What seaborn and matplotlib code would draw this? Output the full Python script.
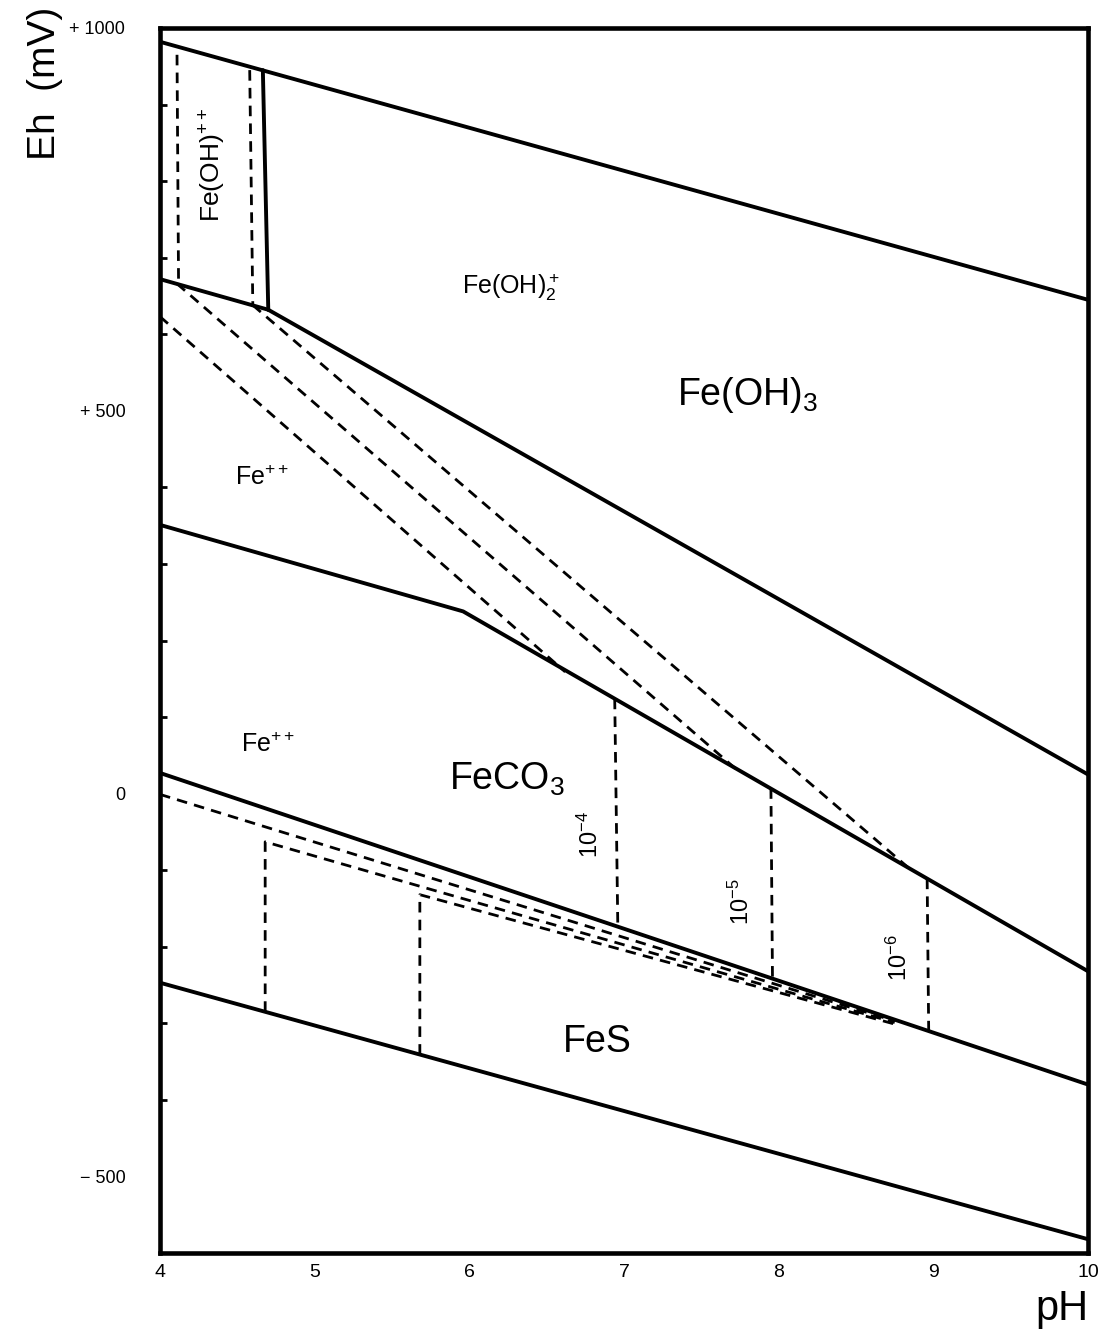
import matplotlib
matplotlib.use("Agg")
import matplotlib.pyplot as plt
from matplotlib.ticker import MultipleLocator
import pandas as pd
import seaborn as sns

# solid stability-field boundaries: (pH, Eh mV)
upper_ph = [4.0, 10.0]
upper_eh = [982, 645]
feoh_vert_ph = [4.665, 4.70]
feoh_vert_eh = [945, 632]
fe_feoh_ph = [4.0, 4.70]
fe_feoh_eh = [672, 632]
fe_fe3_ph = [4.70, 10.0]
fe_fe3_eh = [632, 25]
carb_ph = [4.0, 5.96, 10.0]
carb_eh = [351, 238, -232]
carb_fes_ph = [4.0, 10.0]
carb_fes_eh = [27, -380]
fes_low_ph = [4.0, 10.0]
fes_low_eh = [-247, -582]

# dashed boundaries
dash_a_ph = [4.11, 4.12]
dash_a_eh = [965, 666]
dash_b_ph = [4.58, 4.60]
dash_b_eh = [945, 638]
diag1_ph = [4.0, 6.62]
diag1_eh = [623, 159]
diag2_ph = [4.11, 7.73]
diag2_eh = [666, 31]
diag3_ph = [4.60, 8.84]
diag3_eh = [638, -97]
v4_ph = [6.94, 6.96]
v4_eh = [124, -174]
v5_ph = [7.95, 7.96]
v5_eh = [7, -241]
v6_ph = [8.96, 8.97]
v6_eh = [-111, -310]
low1_ph = [4.0, 8.75]
low1_eh = [-1, -297]
low2_ph = [4.68, 4.68, 8.75]
low2_eh = [-285, -63, -299]
low3_ph = [5.68, 5.68, 8.75]
low3_eh = [-341, -132, -301]

solid = {
    "upper": (upper_ph, upper_eh), "feoh_vert": (feoh_vert_ph, feoh_vert_eh),
    "fe_feoh": (fe_feoh_ph, fe_feoh_eh), "fe_fe3": (fe_fe3_ph, fe_fe3_eh),
    "carb": (carb_ph, carb_eh), "carb_fes": (carb_fes_ph, carb_fes_eh),
    "fes_low": (fes_low_ph, fes_low_eh),
}
dashed = {
    "a": (dash_a_ph, dash_a_eh), "b": (dash_b_ph, dash_b_eh),
    "d1": (diag1_ph, diag1_eh), "d2": (diag2_ph, diag2_eh), "d3": (diag3_ph, diag3_eh),
    "v4": (v4_ph, v4_eh), "v5": (v5_ph, v5_eh), "v6": (v6_ph, v6_eh),
    "l1": (low1_ph, low1_eh), "l2": (low2_ph, low2_eh), "l3": (low3_ph, low3_eh),
}


def to_frame(segs):
    rows = []
    for name, (xs, ys) in segs.items():
        for i, (x, y) in enumerate(zip(xs, ys)):
            rows.append({"seg": name, "order": i, "pH": x, "Eh": y})
    return pd.DataFrame(rows)


sns.set_theme(style="white")
plt.rcParams["font.family"] = ["Liberation Sans", "DejaVu Sans"]
plt.rcParams["mathtext.fontset"] = "custom"
plt.rcParams["mathtext.rm"] = "Liberation Sans"
plt.rcParams["mathtext.it"] = "Liberation Sans"
for key in ("text.color", "axes.labelcolor", "xtick.color", "ytick.color"):
    plt.rcParams[key] = "black"

fig = plt.figure(figsize=(11.02, 13.31), dpi=100)
ax = fig.add_axes([160 / 1102, 1 - 1253 / 1331, 928 / 1102, 1225 / 1331])

sns.lineplot(data=to_frame(solid), x="pH", y="Eh", units="seg", estimator=None,
             sort=False, color="black", lw=2.8, ax=ax, legend=False)
sns.lineplot(data=to_frame(dashed), x="pH", y="Eh", units="seg", estimator=None,
             sort=False, color="black", lw=2.0, linestyle=(0, (3.8, 2.6)),
             ax=ax, legend=False)

ax.set_xlim(4, 10)
ax.set_ylim(-600, 1000)
ax.set_xticks(range(4, 11))
ax.set_xticklabels([str(v) for v in range(4, 11)], fontsize=14)
ax.set_yticks([-500, 0, 500, 1000])
ax.set_yticklabels(["\u2212 500", "0", "+ 500", "+ 1000"], fontsize=13)
ax.yaxis.set_minor_locator(MultipleLocator(100))
ax.tick_params(axis="x", direction="in", length=5, width=2, pad=8)
ax.tick_params(axis="y", which="both", direction="in", length=5, width=2, pad=25)
ax.tick_params(axis="y", which="minor", left=True)
for sp in ax.spines.values():
    sp.set_linewidth(3.3)
    sp.set_color("black")

ax.set_xlabel("pH", fontsize=30, loc="right", labelpad=6)
ax.set_ylabel("Eh  (mV)", fontsize=28, loc="top")
ax.yaxis.set_label_coords(-0.105, 1.017)

ax.text(4.34, 821, "Fe(OH)$^{++}$", rotation=90, fontsize=19, ha="center", va="center")
ax.text(6.27, 661, "Fe(OH)$_2^+$", fontsize=18, ha="center", va="center")
ax.text(7.80, 521, "Fe(OH)$_3$", fontsize=27, ha="center", va="center")
ax.text(4.66, 413, "Fe$^{++}$", fontsize=18, ha="center", va="center")
ax.text(4.70, 64, "Fe$^{++}$", fontsize=18, ha="center", va="center")
ax.text(6.24, 18, "FeCO$_3$", fontsize=27, ha="center", va="center")
ax.text(6.83, -325, "FeS", fontsize=27, ha="center", va="center")
ax.text(6.78, -54, "10$^{-4}$", rotation=90, fontsize=17, ha="center", va="center")
ax.text(7.76, -141, "10$^{-5}$", rotation=90, fontsize=17, ha="center", va="center")
ax.text(8.78, -214, "10$^{-6}$", rotation=90, fontsize=17, ha="center", va="center")

fig.savefig("out.png", dpi=100)
